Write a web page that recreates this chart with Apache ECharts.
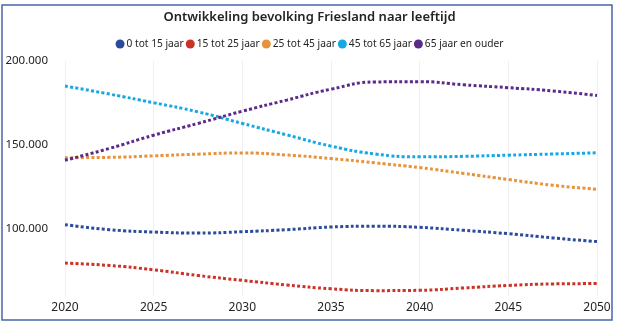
<!DOCTYPE html>
<html>
<head>
<meta charset="utf-8">
<script src="https://cdn.jsdelivr.net/npm/echarts@6/dist/echarts.min.js"></script>
<style>html,body{margin:0;padding:0;background:#fff;}#c{width:619px;height:328px;}</style>
</head>
<body>
<div id="c"></div>
<script>
const title = 'Ontwikkeling bevolking Friesland naar leeftijd';
const years = [2020, 2022.5, 2025, 2027.5, 2030, 2032.5, 2035, 2037.5, 2040, 2042.5, 2045, 2047.5, 2050];
const xTicks = [2020, 2025, 2030, 2035, 2040, 2045, 2050];
const seriesNames = ['0 tot 15 jaar', '15 tot 25 jaar', '25 tot 45 jaar', '45 tot 65 jaar', '65 jaar en ouder'];
const age0_15  = [102500, 99500, 98100, 97500, 98300, 99500, 101100, 101600, 100900, 99100, 97100, 94600, 92400];
const age15_25 = [79600, 78200, 75600, 72200, 69300, 66600, 64300, 63200, 63400, 64800, 66300, 67200, 67400];
const age25_45 = [142400, 142600, 143500, 144500, 145200, 144000, 141900, 139300, 136500, 133000, 129400, 126000, 123600];
const age45_65 = [185100, 180300, 175100, 169700, 162800, 156000, 149300, 144600, 142900, 143200, 143900, 144600, 145300];
const age65plus = [140900, 147900, 155800, 162800, 170100, 176700, 183200, 187500, 187700, 185800, 184100, 182200, 179400];
const colors = ['#2b4c9b', '#cc3327', '#e8923a', '#16a7e4', '#5b2b8a'];
const allValues = [age0_15, age15_25, age25_45, age45_65, age65plus];

const FONT = "'Segoe UI','Noto Sans','Open Sans',sans-serif";
const chart = echarts.init(document.getElementById('c'), null, {renderer: 'canvas'});
chart.setOption({
  animation: false,
  backgroundColor: '#fff',
  textStyle: {fontFamily: FONT},
  title: {
    text: title, left: 'center', top: 6,
    textStyle: {fontSize: 13, fontWeight: 600, color: '#252423', fontFamily: FONT}
  },
  legend: {
    top: 34, left: 'center', icon: 'circle', itemWidth: 9, itemHeight: 9, itemGap: 2,
    textStyle: {fontSize: 10.2, color: '#252423', fontFamily: FONT, padding: [0, 0, 0, -3]},
    data: seriesNames
  },
  grid: {left: 65, right: 22, top: 61, bottom: 32, containLabel: false, outerBoundsMode: 'none'},
  xAxis: {
    type: 'value', min: 2020, max: 2050, interval: 5,
    axisLine: {show: false}, axisTick: {show: false},
    axisLabel: {fontSize: 12, color: '#252423', margin: 6, formatter: v => xTicks.includes(v) ? String(v) : ''},
    splitLine: {show: true, lineStyle: {color: '#f0f0f0', width: 1}}
  },
  yAxis: {
    type: 'value', min: 60000, max: 200000, interval: 10000,
    axisLine: {show: false}, axisTick: {show: false},
    splitLine: {show: false},
    axisLabel: {
      fontSize: 11.5, color: '#252423', margin: 17,
      formatter: v => (v % 50000 === 0) ? v.toLocaleString('nl-NL') : ''
    }
  },
  series: seriesNames.map((n, i) => ({
    name: n, type: 'line', smooth: 0.5, showSymbol: false, symbol: 'circle',
    data: years.map((y, j) => [y, allValues[i][j]]),
    itemStyle: {color: colors[i]},
    lineStyle: {color: colors[i], width: 3, type: [3, 2.3]}
  })),
  graphic: [{
    type: 'rect', shape: {x: 2, y: 5, width: 610, height: 315},
    style: {fill: 'none', stroke: '#4a66a8', lineWidth: 1.5}, silent: true, z: 100
  }]
});
</script>
</body>
</html>
